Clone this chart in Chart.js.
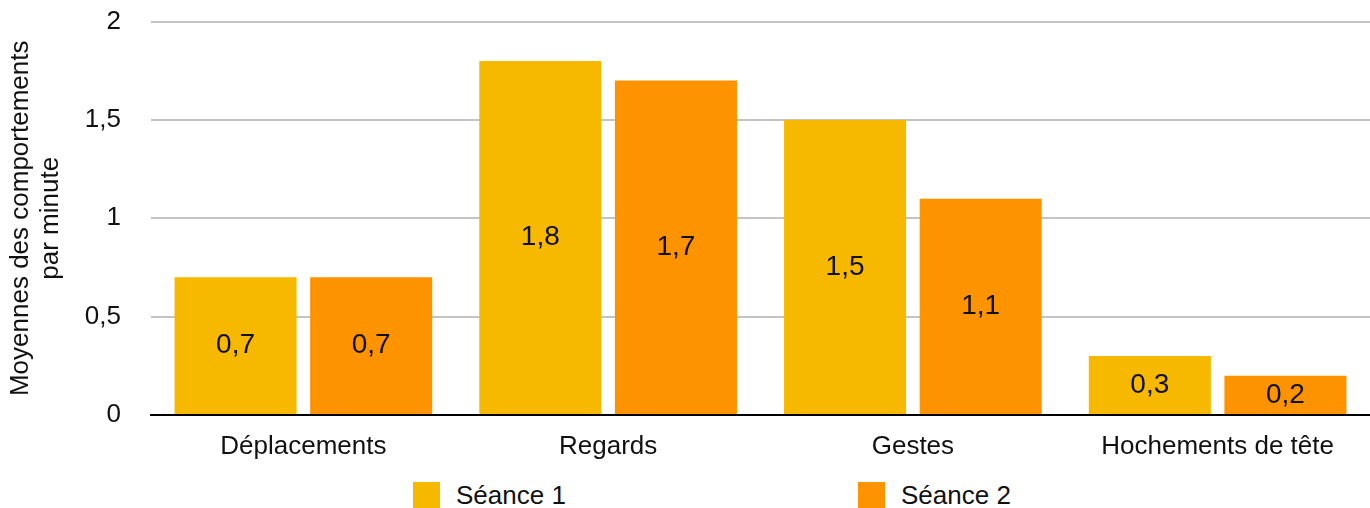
<!DOCTYPE html>
<html>
<head>
<meta charset="utf-8">
<script src="https://cdn.jsdelivr.net/npm/chart.js@4"></script>
<style>
  body { margin: 0; background: #fff; font-family: "Liberation Sans", Arial, sans-serif; }
  .wrap { position: relative; width: 1370px; height: 508px; overflow: hidden; }
  #chart { position: absolute; left: 0; top: -24px; }
  .legend { position: absolute; top: 482px; left: 0; width: 1370px; height: 26px; }
  .item { position: absolute; display: flex; align-items: center; font-size: 26px; color: #111; line-height: 26px; }
  .sw { width: 27px; height: 26px; margin-right: 16px; }
</style>
</head>
<body>
<div class="wrap">
  <canvas id="chart" width="1370" height="494"></canvas>
  <div class="legend" id="legend"></div>
</div>
<script>
const categories = ['Déplacements', 'Regards', 'Gestes', 'Hochements de tête'];
const seance1 = [0.7, 1.8, 1.5, 0.3];
const seance2 = [0.7, 1.7, 1.1, 0.2];
const yTicks = [0, 0.5, 1, 1.5, 2];
const seriesNames = ['Séance 1', 'Séance 2'];
const colors = ['#F6B900', '#FE9300'];

const fmt = v => String(v).replace('.', ',');
const FONT = '"Liberation Sans", Arial, sans-serif';

// values written in the middle of each bar
const barLabels = {
    id: 'barLabels',
    afterDatasetsDraw(chart) {
        const ctx = chart.ctx;
        ctx.save();
        ctx.font = '28px ' + FONT;
        ctx.fillStyle = '#111';
        ctx.textAlign = 'center';
        ctx.textBaseline = 'middle';
        chart.data.datasets.forEach((ds, i) => {
            chart.getDatasetMeta(i).data.forEach((bar, j) => {
                const mid = (bar.y + bar.base) / 2;
                ctx.fillText(fmt(ds.data[j]), bar.x, mid);
            });
        });
        ctx.restore();
    }
};

new Chart(document.getElementById('chart'), {
    type: 'bar',
    data: {
        labels: categories,
        datasets: [
            { label: seriesNames[0], data: seance1, backgroundColor: colors[0] },
            { label: seriesNames[1], data: seance2, backgroundColor: colors[1] }
        ]
    },
    options: {
        responsive: false,
        animation: false,
        layout: { padding: { top: 0, right: 0 } },
        datasets: { bar: { barPercentage: 0.9, categoryPercentage: 0.89 } },
        plugins: { legend: { display: false }, tooltip: { enabled: false } },
        scales: {
            x: {
                grid: { display: false, drawTicks: false },
                border: { color: '#000', width: 2 },
                ticks: { color: '#111', font: { size: 26, family: FONT }, padding: 16 },
                afterFit(scale) { scale.height = 55; }
            },
            y: {
                min: 0,
                max: 2,
                afterBuildTicks(scale) { scale.ticks = yTicks.map(v => ({ value: v })); },
                grid: { color: '#c4c4c4', lineWidth: 2, drawTicks: false },
                border: { display: false },
                ticks: {
                    color: '#111',
                    font: { size: 26, family: FONT },
                    padding: 30,
                    callback: v => fmt(v)
                },
                title: {
                    display: true,
                    text: ['Moyennes des comportements', 'par minute'],
                    color: '#111',
                    font: { size: 26, family: FONT, lineHeight: 1.15 },
                    padding: { top: 6, bottom: 0 }
                },
                afterFit(scale) { scale.width = 151; }
            }
        }
    },
    plugins: [barLabels]
});

// legend below the chart
const legend = document.getElementById('legend');
const legendX = [413, 858];
seriesNames.forEach((name, i) => {
    const it = document.createElement('div');
    it.className = 'item';
    it.style.left = legendX[i] + 'px';
    it.innerHTML = '<span class="sw" style="background:' + colors[i] + '"></span>' + name;
    legend.appendChild(it);
});
</script>
</body>
</html>
